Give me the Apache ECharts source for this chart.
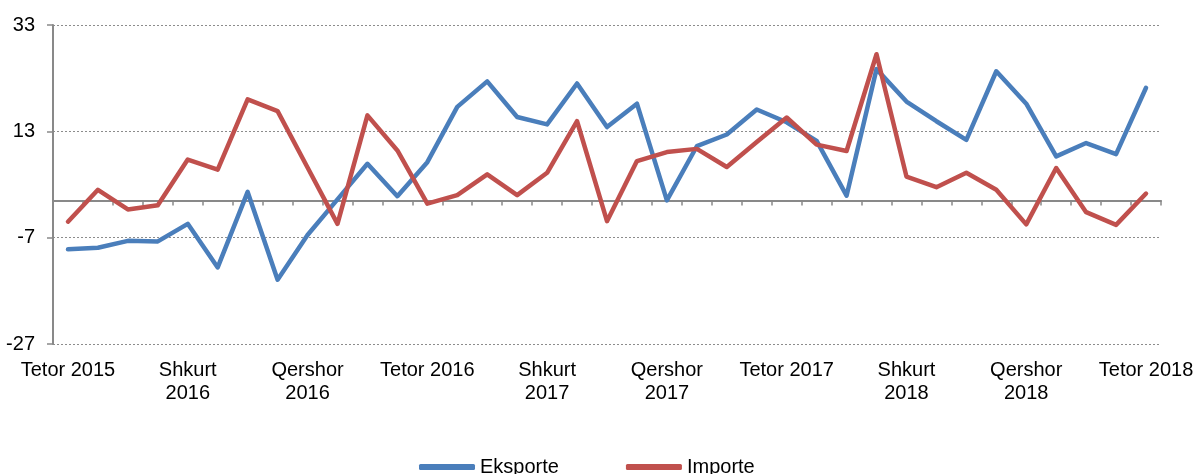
<!DOCTYPE html>
<html>
<head>
<meta charset="utf-8">
<script src="https://cdn.jsdelivr.net/npm/echarts@6/dist/echarts.min.js"></script>
<style>
  html, body { margin: 0; padding: 0; background: #fff; }
  #chart { width: 1199px; height: 474px; }
</style>
</head>
<body>
<div id="chart"></div>
<script>
// muajt Tetor 2015 - Tetor 2018
var months = [
  'Tetor 2015', 'Nëntor 2015', 'Dhjetor 2015', 'Janar 2016', 'Shkurt 2016', 'Mars 2016',
  'Prill 2016', 'Maj 2016', 'Qershor 2016', 'Korrik 2016', 'Gusht 2016', 'Shtator 2016',
  'Tetor 2016', 'Nëntor 2016', 'Dhjetor 2016', 'Janar 2017', 'Shkurt 2017', 'Mars 2017',
  'Prill 2017', 'Maj 2017', 'Qershor 2017', 'Korrik 2017', 'Gusht 2017', 'Shtator 2017',
  'Tetor 2017', 'Nëntor 2017', 'Dhjetor 2017', 'Janar 2018', 'Shkurt 2018', 'Mars 2018',
  'Prill 2018', 'Maj 2018', 'Qershor 2018', 'Korrik 2018', 'Gusht 2018', 'Shtator 2018',
  'Tetor 2018'
]

var eksporte = [
  -9.2, -8.9, -7.6, -7.7, -4.4, -12.6, 1.6, -14.9, -6.5, 0.2, 6.9, 0.8,
  7.2, 17.6, 22.4, 15.7, 14.3, 22.0, 13.8, 18.2, 0.0, 10.2, 12.4, 17.1,
  14.7, 11.2, 0.9, 24.7, 18.6, 14.9, 11.4, 24.3, 18.2, 8.3, 10.8, 8.7,
  21.2
]

var importe = [
  -4.0, 2.0, -1.7, -0.9, 7.7, 5.8, 19.0, 16.8, 6.2, -4.4, 16.0, 9.4,
  -0.6, 1.0, 4.9, 1.0, 5.2, 14.9, -3.9, 7.4, 9.1, 9.7, 6.3, 11.0,
  15.6, 10.5, 9.3, 27.5, 4.5, 2.5, 5.2, 2.0, -4.5, 6.1, -2.2, -4.6,
  1.3
]

var yTicks = [-27, -7, 13, 33]

var font = 'Liberation Sans, Arial, sans-serif'
var axisGray = '#898989'

var chart = echarts.init(document.getElementById('chart'))

var option = {
  backgroundColor: '#fff',
  animation: false,
  textStyle: { fontFamily: font },
  grid: {
    left: 53,
    right: 38,
    top: 25,
    height: 319,
    containLabel: false
  },
  legend: {
    left: 414,
    top: 452,
    icon: 'roundRect',
    itemWidth: 56,
    itemHeight: 6,
    itemGap: 67,
    textStyle: { fontSize: 20, color: '#000', fontFamily: font },
    data: ['Eksporte', 'Importe']
  },
  xAxis: [{
    // vija e zeros me vija te vogla
    type: 'category',
    data: months,
    position: 'top',
    boundaryGap: true,
    axisLine: { show: true, onZero: true, lineStyle: { color: axisGray, width: 2 } },
    axisTick: { show: true, inside: true, length: 5, interval: 0, lineStyle: { color: axisGray, width: 1.5 } },
    axisLabel: { show: false },
    splitLine: { show: false }
  }, {
    // etiketat poshte
    type: 'category',
    data: months,
    position: 'bottom',
    boundaryGap: true,
    axisLine: { show: false, onZero: false },
    axisTick: { show: false },
    axisLabel: {
      show: true,
      interval: 3,
      margin: 15,
      fontSize: 20,
      lineHeight: 23,
      color: '#000',
      fontFamily: font,
      formatter: function (v) {
        return v.indexOf('Tetor') === 0 ? v : v.replace(' ', '\n')
      }
    },
    splitLine: { show: false }
  }],
  yAxis: {
    type: 'value',
    min: -27,
    max: 33,
    axisLine: { show: true, lineStyle: { color: axisGray, width: 2 } },
    axisTick: { show: true, length: 6, customValues: yTicks, lineStyle: { color: axisGray, width: 1.5 } },
    axisLabel: { fontSize: 20, color: '#000', margin: 18, fontFamily: font, customValues: yTicks },
    splitLine: { show: true, lineStyle: { color: '#8c8c8c', width: 1, type: [2, 2] } }
  },
  series: [{
    name: 'Eksporte',
    type: 'line',
    data: eksporte,
    showSymbol: false,
    symbol: 'none',
    color: '#4a7ebb',
    lineStyle: { width: 4.5, color: '#4a7ebb', cap: 'round', join: 'round' }
  }, {
    name: 'Importe',
    type: 'line',
    data: importe,
    showSymbol: false,
    symbol: 'none',
    color: '#c0504d',
    lineStyle: { width: 4.5, color: '#c0504d', cap: 'round', join: 'round' }
  }]
}

chart.setOption(option)
</script>
</body>
</html>
